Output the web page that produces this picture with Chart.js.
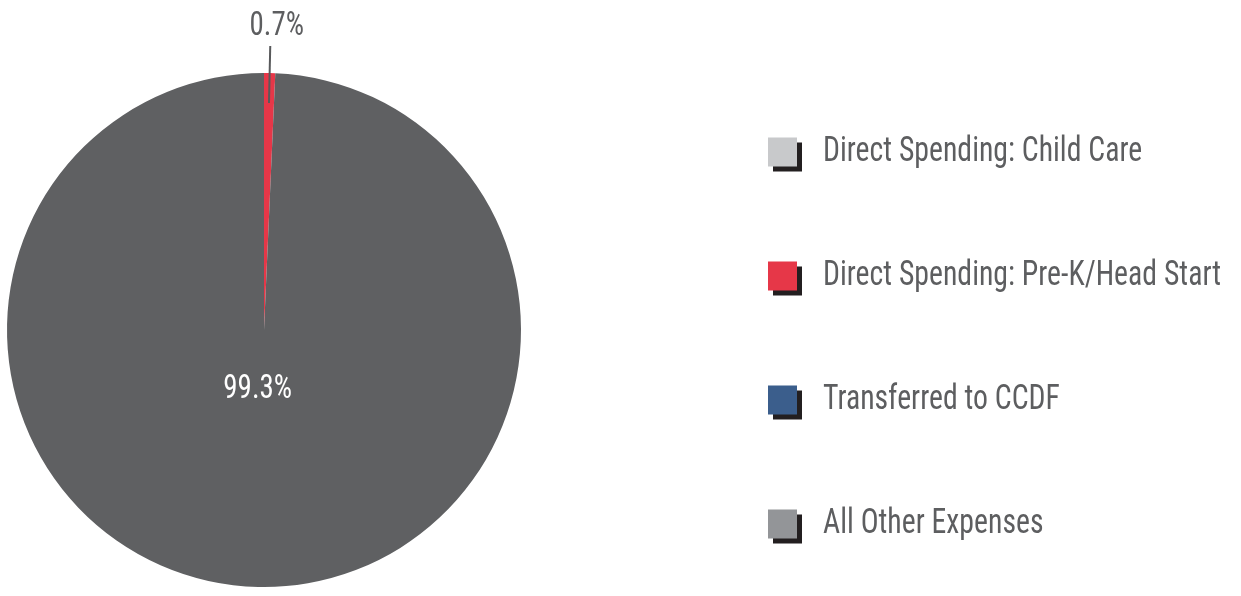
<!DOCTYPE html>
<html>
<head>
<meta charset="utf-8">
<script src="https://cdn.jsdelivr.net/npm/chart.js@4"></script>
<style>
  html, body { margin: 0; padding: 0; background: #fff; }
  #wrap { width: 1241px; height: 596px; }
</style>
</head>
<body>
<div id="wrap"><canvas id="pie"></canvas></div>
<script>
const labels = [
    'Direct Spending: Child Care',
    'Direct Spending: Pre-K/Head Start',
    'Transferred to CCDF',
    'All Other Expenses'
];
const shares = [0, 0.7, 0, 99.3];
const sliceColors = ['#c8c9cb', '#e63748', '#3b5e8c', '#5f6062'];
const legendColors = ['#c8c9cb', '#e63748', '#3b5e8c', '#939598'];

const FONT = '"Roboto Condensed", "Liberation Sans Narrow", Roboto, sans-serif';
const TEXT_COLOR = '#5d5e60';
const SQUEEZE = 0.85;

// draw text squeezed horizontally, like the condensed face of the original
function narrowText(ctx, txt, x, y, align) {
    ctx.save();
    ctx.translate(x, y);
    ctx.scale(SQUEEZE, 1);
    ctx.textAlign = align;
    ctx.fillText(txt, 0, 0);
    ctx.restore();
}

// percent labels: big slice inside, thin slice outside with a leader line
const sliceLabels = {
    id: 'sliceLabels',
    afterDatasetsDraw(chart) {
        const ctx = chart.ctx;
        const arcs = chart.getDatasetMeta(0).data;
        ctx.save();
        ctx.font = '34px ' + FONT;
        ctx.textBaseline = 'middle';
        arcs.forEach((arc, i) => {
            const v = shares[i];
            if (!v) return;
            const mid = (arc.startAngle + arc.endAngle) / 2;
            const r = arc.outerRadius;
            const cos = Math.cos(mid), sin = Math.sin(mid);
            const txt = v.toFixed(1) + '%';
            if (v < 5) {
                ctx.strokeStyle = '#58595b';
                ctx.lineWidth = 2;
                ctx.beginPath();
                ctx.moveTo(arc.x + cos * (r - 30), arc.y + sin * (r - 30));
                ctx.lineTo(arc.x + cos * (r + 27), arc.y + sin * (r + 27));
                ctx.stroke();
                ctx.fillStyle = TEXT_COLOR;
                narrowText(ctx, txt, arc.x + cos * (r + 50) + 6, arc.y + sin * (r + 50) + 3, 'center');
            } else {
                ctx.fillStyle = '#ffffff';
                narrowText(ctx, txt, arc.x + cos * r * 0.23 - 5, arc.y + sin * r * 0.23, 'center');
            }
        });
        ctx.restore();
    }
};

// legend on the right with offset-shadow squares
const sideLegend = {
    id: 'sideLegend',
    afterDraw(chart) {
        const ctx = chart.ctx;
        const x0 = 768, y0 = 152, step = 124, box = 29;
        ctx.save();
        ctx.font = '35px ' + FONT;
        ctx.textBaseline = 'middle';
        labels.forEach((lab, i) => {
            const cy = y0 + i * step;
            ctx.fillStyle = '#231f20';
            ctx.fillRect(x0 + 5, cy - box / 2 + 5, box, box);
            ctx.fillStyle = legendColors[i];
            ctx.fillRect(x0, cy - box / 2, box, box);
            ctx.fillStyle = TEXT_COLOR;
            narrowText(ctx, lab, x0 + 55, cy, 'left');
        });
        ctx.restore();
    }
};

new Chart(document.getElementById('pie'), {
    type: 'pie',
    data: {
        labels: labels,
        datasets: [{
            data: shares,
            backgroundColor: sliceColors,
            borderWidth: 0
        }]
    },
    options: {
        responsive: true,
        maintainAspectRatio: false,
        animation: false,
        layout: { padding: { left: 7, right: 720, top: 72, bottom: 8 } },
        plugins: {
            legend: { display: false },
            tooltip: { enabled: false }
        }
    },
    plugins: [sliceLabels, sideLegend]
});
</script>
</body>
</html>
